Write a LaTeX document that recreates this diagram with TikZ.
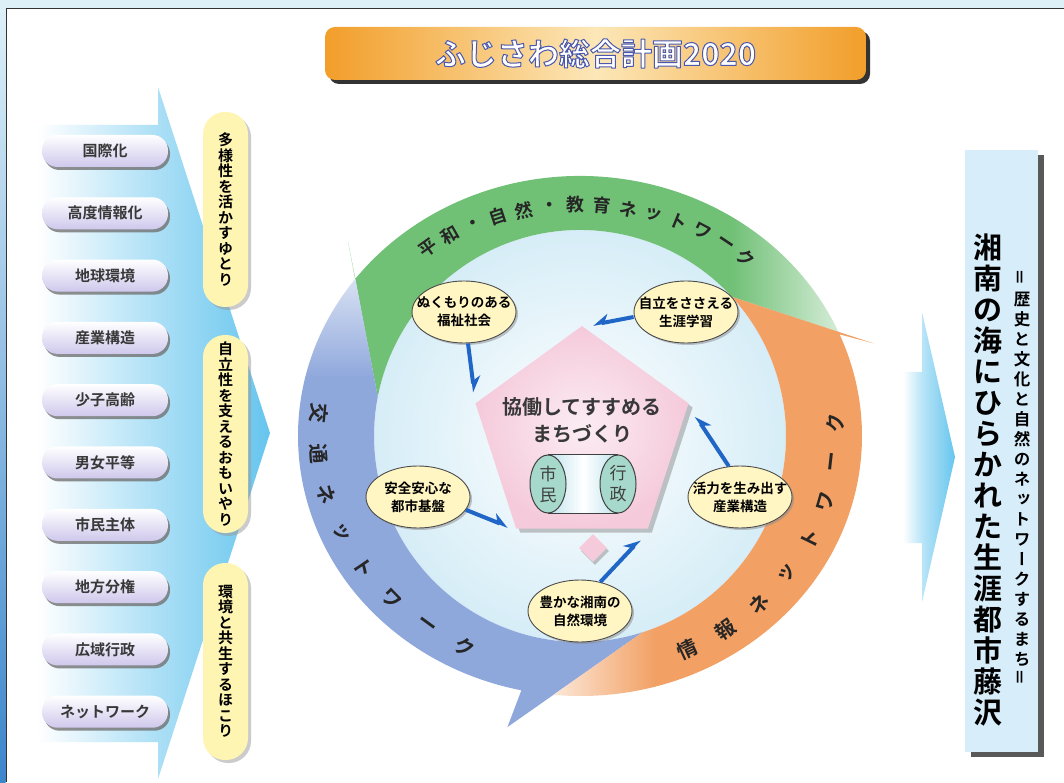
\documentclass[tikz,border=0pt]{standalone}
\usepackage{fontspec}
\newfontfamily\jp{Noto Sans CJK JP}
\newfontfamily\jpb{Noto Sans CJK JP Bold}
\newfontfamily\jpbv{Noto Sans CJK JP Bold}[RawFeature=+vert]
\usetikzlibrary{shapes.geometric,shadows,arrows.meta}

\definecolor{skyback}{HTML}{DDF0F8}
\definecolor{stripblue}{HTML}{3C86CC}
\definecolor{netgreen}{HTML}{70C076}
\definecolor{netblue}{HTML}{8FA8DC}
\definecolor{netorange}{HTML}{F2A063}
\definecolor{linkblue}{HTML}{1F66C6}
\definecolor{pillyellow}{HTML}{FFF5B3}
\definecolor{ovalyellow}{HTML}{FFF6C4}
\definecolor{corepink}{HTML}{F5CADB}
\definecolor{lilac}{HTML}{CFC8EC}
\definecolor{arrowblue}{HTML}{66C5EE}
\definecolor{boxblue}{HTML}{D7EDF9}
\definecolor{discblue}{HTML}{D6EDF7}
\definecolor{tubeblue}{HTML}{BFE3EE}
\definecolor{titleorange}{HTML}{F29E2A}
\definecolor{titlecream}{HTML}{FCE7B8}
\definecolor{civicteal}{HTML}{A6D9CB}

\pgfdeclarehorizontalshading{peaceflow}{100bp}{color(0bp)=(netgreen); color(25bp)=(netgreen); color(64bp)=(netgreen); color(75bp)=(netgreen!30!white); color(100bp)=(netgreen!30!white)}
\pgfdeclareverticalshading{trafficflow}{100bp}{color(0bp)=(netblue); color(25bp)=(netblue); color(64bp)=(netblue); color(75bp)=(netblue!35!white); color(100bp)=(netblue!35!white)}
\pgfdeclarehorizontalshading{infoflow}{100bp}{color(0bp)=(netorange!25!white); color(25bp)=(netorange!25!white); color(41bp)=(netorange); color(100bp)=(netorange)}
\pgfdeclarehorizontalshading{trendflow}{100bp}{color(0bp)=(white); color(25bp)=(white); color(51bp)=(arrowblue!55!white); color(75bp)=(arrowblue); color(100bp)=(arrowblue)}
\pgfdeclarehorizontalshading{goalflow}{100bp}{color(0bp)=(white); color(25bp)=(white); color(43bp)=(arrowblue!45!white); color(75bp)=(arrowblue); color(100bp)=(arrowblue)}

% white letters with a blue rim
\newcommand\rimtext[1]{\special{pdf:literal direct 2 Tr 1 j 1 w 0.29 0.35 0.68 RG}#1\special{pdf:literal direct 0 Tr}}

\begin{document}
\begin{tikzpicture}[x=1pt,y=1pt,
  trendbtn/.style={rectangle, rounded corners=15.5pt, minimum width=126pt, minimum height=32pt,
    top color=white, bottom color=lilac, text=black!78, font=\jpb\fontsize{15}{15}\selectfont,
    drop shadow={shadow xshift=2pt, shadow yshift=-3pt, fill=black!55, opacity=.8}},
  aimpill/.style={rectangle, rounded corners=22pt, minimum width=45pt, fill=pillyellow,
    align=center, inner sep=0pt, font=\jpbv\fontsize{15}{15.5}\selectfont,
    drop shadow={shadow xshift=3pt, shadow yshift=-3pt, fill=black!40}},
  policy/.style={ellipse, draw=black!70, line width=.9pt, fill=ovalyellow, minimum width=104pt,
    minimum height=62pt, inner xsep=-14pt, inner ysep=0pt, align=center,
    font=\jpb\fontsize{13.5}{18}\selectfont,
    drop shadow={shadow xshift=2pt, shadow yshift=-2pt, fill=black!45}},
  civic/.style={ellipse, draw=black!75, line width=1pt, fill=civicteal, minimum width=36pt,
    minimum height=58pt, inner sep=0pt, align=center, text=black!75,
    font=\jp\fontsize{17}{21}\selectfont},
  link/.style={draw=linkblue, line width=4pt, -{Stealth[harpoon, length=14pt, width=16pt]}},
  linkr/.style={draw=linkblue, line width=4pt, -{Stealth[harpoon, swap, length=14pt, width=16pt]}},
  ringchar/.style={font=\jpb\fontsize{20}{20}\selectfont, inner sep=0pt, text=black!85},
  titlebox/.style={rectangle, rounded corners=10pt, minimum width=541pt, minimum height=53pt,
    left color=titleorange, right color=titleorange, middle color=titlecream,
    drop shadow={shadow xshift=4pt, shadow yshift=-4pt, fill=black!80, opacity=1}},
  goalbox/.style={rectangle, minimum width=73pt, minimum height=602pt, fill=boxblue,
    drop shadow={shadow xshift=6pt, shadow yshift=-5pt, fill=black!65, opacity=1}}]

\useasboundingbox (0,0) rectangle (1064,782);
\fill[skyback] (0,0) rectangle (1064,782);
\fill[white] (6,0) rectangle (1064,773);
\shade[top color=skyback, bottom color=stripblue] (0,0) rectangle (5.5,773);
\draw[black!80, line width=1pt] (6,0) -- (6,773) -- (1064,773);

% title
\node[titlebox] (title) at (595.5,728.5) {};
\node[font=\jpb\fontsize{31}{31}\selectfont, inner sep=0pt, text=white] (heading) at (title.center)
  {\rimtext{ふじさわ総合計画2020}};

% left side
\shade[shading=trendflow] (37,657) -- (158,657) -- (158,695) -- (270,349) -- (158,3) -- (158,40) -- (37,40) -- cycle;
\foreach \name [count=\i] in {国際化,高度情報化,地球環境,産業構造,少子高齢,男女平等,市民主体,地方分権,広域行政,ネットワーク}
  \node[trendbtn] (trend\i) at (105,{631-62.3*(\i-1)}) {\name};
\node[aimpill, minimum height=195pt] (yutori) at (225.5,572.5) {多\\様\\性\\を\\活\\か\\す\\ゆ\\と\\り};
\node[aimpill, minimum height=198pt] (omoiyari) at (225.5,348) {自\\立\\性\\を\\支\\え\\る\\お\\も\\い\\や\\り};
\node[aimpill, minimum height=197pt] (hokori) at (225.5,120.5) {環\\境\\と\\共\\生\\す\\る\\ほ\\こ\\り};

% ring
\begin{scope}[shift={(580,346)}]
  \shade[inner color=white, outer color=discblue] (0,0) circle[radius=206];
  \shade[shading=peaceflow] (23.6:282 and 260) arc[start angle=23.6, end angle=142.8, x radius=282, y radius=260]
    -- (140:303) -- (169:206) arc[start angle=169, end angle=42.5, radius=206] -- cycle;
  \shade[shading=trafficflow] (142.8:282 and 260) arc[start angle=142.8, end angle=258, x radius=282, y radius=260]
    -- (256:300) -- (287.7:206) arc[start angle=287.7, end angle=169, radius=206] -- cycle;
  \shade[shading=infoflow] (264.6:282 and 260) arc[start angle=264.6, end angle=383, x radius=282, y radius=260]
    -- (17.5:308) -- (42.5:206) arc[start angle=42.5, end angle=-72.3, radius=206] -- cycle;
  \foreach \ch [count=\i from 0] in {平,和,・,自,然,・,教,育,ネ,ッ,ト,ワ,ー,ク} {
    \pgfmathsetmacro\t{125.5-5.76*\i}
    \node[ringchar, font=\jpb\fontsize{18}{18}\selectfont, rotate=\t-90] (peace\i) at (\t:262 and 231) {\ch};
  }
  \foreach \ch [count=\i from 0] in {交,通,ネ,ッ,ト,ワ,ー,ク} {
    \pgfmathsetmacro\t{174.4+9.93*\i}
    \node[ringchar, rotate=\t+90] (traffic\i) at (\t:262 and 235) {\ch};
  }
  \foreach \ch [count=\i from 0] in {情,報,ネ,ッ,ト,ワ,ー,ク} {
    \pgfmathsetmacro\t{-65.1+9.77*\i}
    \node[ringchar, rotate=\t+90] (info\i) at (\t:256 and 235) {\ch};
  }
\end{scope}

% centre
\node[regular polygon, regular polygon sides=5, minimum size=224pt, inner sep=0pt,
  inner color=corepink!35!white, outer color=corepink,
  drop shadow={shadow xshift=4pt, shadow yshift=-4pt, fill=black!45}] (core) at (582,344) {};
\node[diamond, minimum width=28pt, minimum height=28pt, inner sep=0pt, fill=corepink,
  drop shadow={shadow xshift=2pt, shadow yshift=-3pt, fill=black!45}] (gem) at (593,234) {};
\node[font=\jpb\fontsize{20}{27}\selectfont, align=center, text=black!78] (motif) at (582,361.5) {協働してすすめる\\まちづくり};
\shade[left color=tubeblue, right color=tubeblue, middle color=white] (548,327) rectangle (618,269);
\draw[black!75, line width=1pt] (548,327) -- (618,327) (548,269) -- (618,269);
\node[civic] (cit) at (548,298) {市\\民};
\node[civic] (gov) at (618,298) {行\\政};

\node[policy] (welfare) at (464,470) {ぬくもりのある\\福祉社会};
\node[policy] (learning) at (686,470) {自立をささえる\\生涯学習};
\node[policy] (safety) at (418,285) {安全安心な\\都市基盤};
\node[policy] (vitality) at (740,285) {活力を生み出す\\産業構造};
\node[policy] (nature) at (580,171) {豊かな湘南の\\自然環境};

\draw[link] ([xshift=4pt]welfare.south) -- ([xshift=-1pt,yshift=11pt]core.corner 2);
\draw[linkr] ([yshift=-5pt]learning.west) -- ([xshift=11pt,yshift=1pt]core.corner 1);
\draw[link] (safety.-15) -- ([xshift=-8pt,yshift=2pt]core.corner 3);
\draw[link] (nature.55) -- ([xshift=-8pt,yshift=-11pt]core.corner 4);
\draw[linkr] (vitality.110) -- ([xshift=7pt,yshift=-13pt]core.corner 5);

% right side
\shade[shading=goalflow] (903,410) -- (922,410) -- (922,470) -- (955,325) -- (922,180) -- (922,239) -- (903,239) -- cycle;
\node[goalbox] (goal) at (1001.5,331) {};
\node[font=\jpb\fontsize{29}{31}\selectfont, align=center, inner sep=0pt] (motto) at (988,301.5)
  {湘\\南\\の\\海\\に\\ひ\\ら\\か\\れ\\た\\生\\涯\\都\\市\\藤\\沢};
\node[font=\jpbv\fontsize{16.5}{20}\selectfont, align=center, inner sep=0pt] (subtitle) at (1022,305)
  {{\jpb\rotatebox{90}{＝}}\\歴\\史\\と\\文\\化\\と\\自\\然\\の\\ネ\\ッ\\ト\\ワ\\ー\\ク\\す\\る\\ま\\ち\\{\jpb\rotatebox{90}{＝}}};
\end{tikzpicture}
\end{document}
